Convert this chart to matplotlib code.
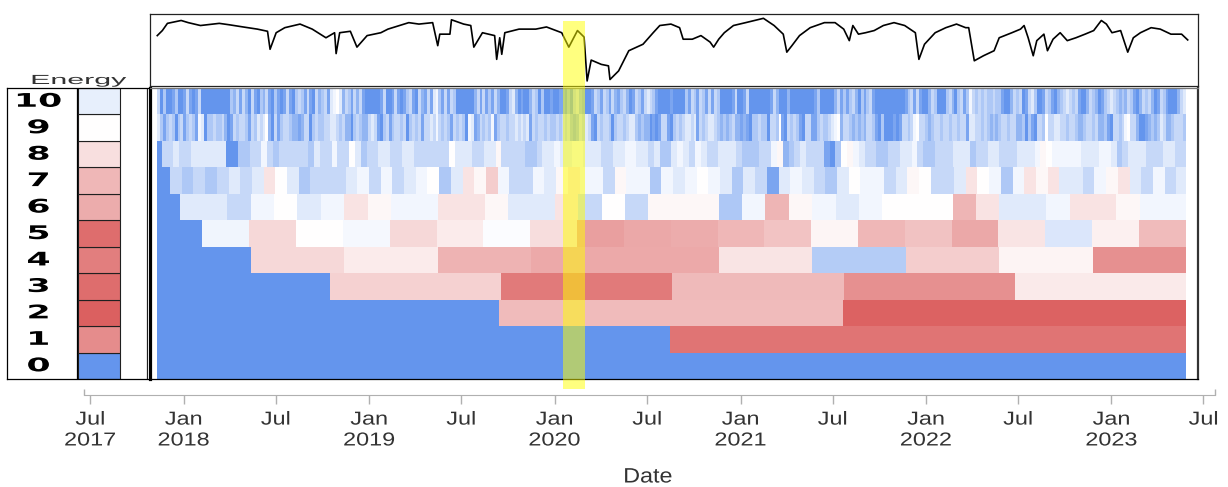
import datetime as dt
import numpy as np
import matplotlib
matplotlib.use("Agg")
import matplotlib.pyplot as plt
import matplotlib.dates as mdates
from matplotlib.colors import LinearSegmentedColormap, Normalize
from matplotlib.patches import Rectangle
from matplotlib.patheffects import AbstractPathEffect
from matplotlib.transforms import Affine2D, blended_transform_factory

plt.rcParams['font.family'] = ['Liberation Sans', 'DejaVu Sans']

# ---------------- data ----------------
base_date = dt.date(2017, 7, 1)          # day offsets below count from here
levels = list(range(11))
# mean energy per level, 0..10 (-1 = blue, 0 = white, 1 = red)
energy = [-1.0, 0.69, 0.96, 0.88, 0.78, 0.88, 0.50, 0.43, 0.19, 0.0, -0.15]

data_start = 131.5
data_end = 2155.7

# fine levels: one character per block
code_vals = {'0': -1.0, '1': -0.85, '2': -0.7, '3': -0.52, '4': -0.36, '5': -0.2,
             '6': -0.08, '7': 0.0, 'a': 0.05, 'b': 0.17, 'c': 0.3, 'd': 0.45}

row10 = ("403001300141014" "0000000000" "32414204103241031014"
         "10343141042341567524314241" "000001400141013410"
         "4214156314143" "000000" "241413142001452" "0100" "24303" "001001"
         "10203421" "001" "4314314213420143145431" "000010000"
         "314314314143" "0000" "14" "00" "14" "0000000" "142" "000" "2"
         "00000000" "13" "00000" "24131342031341" "0000000000" "134141" "00"
         "243" "000" "34"
         "2034136" "4343433433" "1002434" "01453" "001431" "023454341"
         "0024320" "13454323243" "10243420" "1431000245")
row9 = ("531343034134316" "503343342" "01434431435457" "2041344" "32212440"
        "3433445543" "4220343224541" "0341344340343"
        "4144546434314343" "0651243436" "134434454545" "14344343343"
        "434212435410" "4344303443455" "32322010144103434"
        "55451434554" "323234221210" "334330443710" "434310441134"
        "33456724432" "3232443103000" "1014434674" "4323443443"
        "443441554434" "323234434422" "303104437445" "544344322344"
        "342231044346" "744200123235" "42234443")
row8 = ("44544555555" "00" "334464344444" "3544644753445544554"
        "4444475554455" "a" "444433455" "655665554455665" "5453356"
        "546544555433344" "6a2345444103" "7a6" "544334455643344"
        "455534455444555" "6a76666655566" "5345554445544")
row7 = ("43434545b753444564645" "6735bac64465ab664a66365"
        "6765354156543576645a744" "5b7636bab5546ab54645")
row6 = "5546756ba6" "6bba55b474aa" "a36da656777" "db556bba66"

row5 = [-0.1, 0.24, 0.0, -0.07, 0.24, 0.12, -0.03, 0.21, 0.58, 0.53, 0.5,
        0.43, 0.36, 0.06, 0.43, 0.37, 0.53, 0.16, -0.23, 0.09, 0.41]
row4 = [0.24, 0.12, 0.46, 0.52, 0.52, 0.16, -0.48, 0.3, 0.07, 0.67]
row3 = [0.28, 0.8, 0.42, 0.67, 0.13]
row2 = [0.41, 0.95]
row1 = [0.84]

rows = {10: [code_vals[c] for c in row10], 9: [code_vals[c] for c in row9],
        8: [code_vals[c] for c in row8], 7: [code_vals[c] for c in row7],
        6: [code_vals[c] for c in row6], 5: row5, 4: row4, 3: row3, 2: row2, 1: row1}
row_start = {10: 131.5, 9: 131.5, 8: 140.7, 7: 157.1, 6: 177.5, 5: 221.0,
             4: 315.7, 3: 471.0, 2: 805.0, 1: 1141.0}
row_step = {10: 5.77, 9: 5.77, 8: 11.53, 7: 23.03, 6: 46.05, 5: 92.15,
            4: 184.2, 3: 337.3, 2: 676.0, 1: 1015.0}

line_days = [132, 142, 152, 179, 193, 217, 254, 274, 301, 329, 349, 354, 366, 383,
             413, 437, 464, 481, 484, 491, 512, 525, 545, 572, 586, 627, 647, 674,
             684, 688, 708, 711, 735, 749, 755, 772, 796, 800, 806, 810, 816, 844,
             877, 898, 928, 942, 959, 972, 978, 986, 1006, 1020, 1023, 1040, 1060,
             1088, 1108,
             1121, 1143, 1160, 1167, 1185, 1202, 1220, 1227, 1237, 1248, 1266, 1290,
             1325, 1346, 1364, 1371, 1381, 1396, 1417, 1445, 1466, 1483, 1494, 1501,
             1512, 1526, 1543, 1561, 1582, 1603, 1624, 1631, 1642, 1663, 1684, 1705,
             1723, 1729, 1740, 1758, 1779, 1789, 1814, 1831, 1838, 1846, 1856, 1863,
             1877, 1884, 1895, 1909, 1923, 1940, 1958, 1975, 1990, 2000, 2011, 2028,
             2042, 2053, 2067, 2088, 2106, 2127, 2148, 2160]
line_vals = [0.70, 0.77, 0.87, 0.91, 0.88, 0.84, 0.87, 0.85, 0.82, 0.79, 0.76, 0.51,
             0.74, 0.81, 0.86, 0.79, 0.67, 0.74, 0.45, 0.74, 0.76, 0.54, 0.70, 0.74,
             0.79, 0.88, 0.86, 0.88, 0.56, 0.72, 0.72, 0.92, 0.86, 0.84, 0.54, 0.74,
             0.70, 0.37, 0.67, 0.44, 0.74, 0.79, 0.79, 0.82, 0.74, 0.54, 0.77, 0.68,
             0.07, 0.36, 0.30, 0.28, 0.09, 0.21, 0.49, 0.58, 0.74,
             0.84, 0.86, 0.81, 0.65, 0.65, 0.70, 0.61, 0.54, 0.65, 0.74, 0.84, 0.88,
             0.94, 0.84, 0.72, 0.47, 0.56, 0.70, 0.81, 0.88, 0.88, 0.79, 0.63, 0.84,
             0.72, 0.74, 0.77, 0.84, 0.88, 0.84, 0.74, 0.37, 0.58, 0.74, 0.81, 0.86,
             0.81, 0.81, 0.35, 0.42, 0.49, 0.67, 0.74, 0.79, 0.84, 0.67, 0.42, 0.63,
             0.72, 0.49, 0.65, 0.74, 0.63, 0.67, 0.72, 0.77, 0.91, 0.86, 0.74, 0.77,
             0.47, 0.67, 0.74, 0.81, 0.79, 0.72, 0.72, 0.64]

band = ["2020-01-17", "2020-03-01"]

tick_dates = ["2017-07-01", "2018-01-01", "2018-07-01", "2019-01-01", "2019-07-01",
              "2020-01-01", "2020-07-01", "2021-01-01", "2021-07-01", "2022-01-01",
              "2022-07-01", "2023-01-01", "2023-07-01"]
tick_labels = ["Jul\n2017", "Jan\n2018", "Jul", "Jan\n2019", "Jul", "Jan\n2020", "Jul",
               "Jan\n2021", "Jul", "Jan\n2022", "Jul", "Jan\n2023", "Jul"]


class Widen(AbstractPathEffect):
    # stretch glyphs sideways around their centre
    def __init__(self, sx):
        super().__init__()
        self.sx = sx

    def draw_path(self, renderer, gc, tpath, affine, rgbFace=None):
        ext = tpath.transformed(affine).get_extents()
        cx = (ext.x0 + ext.x1) / 2
        st = Affine2D().translate(-cx, 0).scale(self.sx, 1).translate(cx, 0)
        renderer.draw_path(gc, tpath, affine + st, rgbFace)


W, H = 1228, 487
fig = plt.figure(figsize=(W / 100, H / 100), dpi=100)


def px_axes(x0, y0, x1, y1):
    return fig.add_axes([x0 / W, 1 - y1 / H, (x1 - x0) / W, (y1 - y0) / H])


t0 = mdates.date2num(base_date)


def px_to_x(px):
    return t0 + (px - 90.2) / 0.5081


cmap = LinearSegmentedColormap.from_list("energy", ["#6495ED", "#FFFFFF", "#DA5A5A"])
norm = Normalize(-1, 1)

# ---------------- heatmap ----------------
ax = px_axes(150, 88, 1198, 379)
ax.bar(t0 + data_start, 11, width=data_end - data_start, bottom=0, align='edge',
       color=cmap(norm(-1.0)), linewidth=0)
for lvl, vals in rows.items():
    starts = t0 + row_start[lvl] + row_step[lvl] * np.arange(len(vals))
    widths = np.minimum(row_step[lvl], t0 + data_end - starts)
    ax.bar(starts, 1, width=widths, bottom=lvl, align='edge',
           color=cmap(norm(np.array(vals))), linewidth=0, antialiased=False)
ax.set_xlim(px_to_x(150), px_to_x(1198))
ax.set_ylim(0, 11)
ax.set_xticks([])
ax.set_yticks([])
ax.spines['left'].set_linewidth(2.3)
ax.spines['left'].set_color('black')
ax.spines['top'].set_color('#777777')
ax.spines['top'].set_linewidth(0.9)
ax.spines['right'].set_color('#333333')
ax.spines['right'].set_linewidth(1.6)
ax.spines['bottom'].set_linewidth(0.9)

# ---------------- top line panel ----------------
axt = px_axes(150, 14, 1198, 86)
axt.plot(t0 + np.array(line_days), line_vals, color='black', lw=1.2)
axt.set_xlim(px_to_x(150), px_to_x(1198))
axt.set_ylim(0, 1)
axt.set_xticks([])
axt.set_yticks([])
for s in axt.spines.values():
    s.set_color('#222222')
    s.set_linewidth(0.9)

# ---------------- left legend column ----------------
axl = px_axes(7, 88, 148.5, 379)
axl.bar(77.7, 1, width=42.3, bottom=levels, align='edge',
        color=cmap(norm(np.array(energy))), edgecolor='#202020', linewidth=0.8)
axl.axvline(76.7, color='black', lw=0.9)
axl.axvline(146.7, color='#202020', lw=0.9)
for lvl in levels:
    axl.text(38.5, lvl + 0.5, str(lvl), ha='center', va='center', fontsize=13.5,
             fontweight='bold', family='DejaVu Sans', color='black',
             path_effects=[Widen(1.85)])
axl.set_xlim(7, 148.5)
axl.set_ylim(0, 11)
axl.set_xticks([])
axl.set_yticks([])
axl.spines['right'].set_visible(False)
for s in ['left', 'top', 'bottom']:
    axl.spines[s].set_linewidth(0.9)

fig.text(79 / W, 1 - 84 / H, "Energy", ha='center', va='baseline', fontsize=9.5,
         color='#333333', path_effects=[Widen(2.3)])

# ---------------- date axis ----------------
axb = px_axes(84.2, 384, 1214.7, 394.5)
axb.patch.set_alpha(0)
x_lo, x_hi = px_to_x(84.2), px_to_x(1214.7)
axb.set_xlim(x_lo, x_hi)
axb.set_ylim(0, 1)
for s in ['left', 'right', 'top']:
    axb.spines[s].set_visible(False)
axb.spines['bottom'].set_color('#b0b0b0')
axb.set_yticks([])
axb.set_xticks(mdates.datestr2num(tick_dates))
axb.set_xticklabels(tick_labels)
axb.tick_params(axis='x', length=6.3, width=1, color='#b0b0b0', labelsize=13.5,
                labelcolor='#333333', pad=6)
for lbl in axb.get_xticklabels():
    lbl.set_linespacing(1.3)
    lbl.set_path_effects([Widen(1.25)])
axb.vlines([x_lo, x_hi], 0, 0.55, color='#b0b0b0', lw=1, clip_on=False)

fig.text(648 / W, 1 - 477 / H, "Date", ha='center', va='center', fontsize=15,
         color='#333333', path_effects=[Widen(1.12)])

# ---------------- highlighted period ----------------
b0, b1 = mdates.datestr2num(band)
tr = blended_transform_factory(ax.transData, fig.transFigure)
fig.add_artist(Rectangle((b0, 1 - 389 / H), b1 - b0, (389 - 21) / H, transform=tr,
                         facecolor='#FFFF00', alpha=0.5, linewidth=0, zorder=10))

fig.savefig("out.png", dpi=100)
